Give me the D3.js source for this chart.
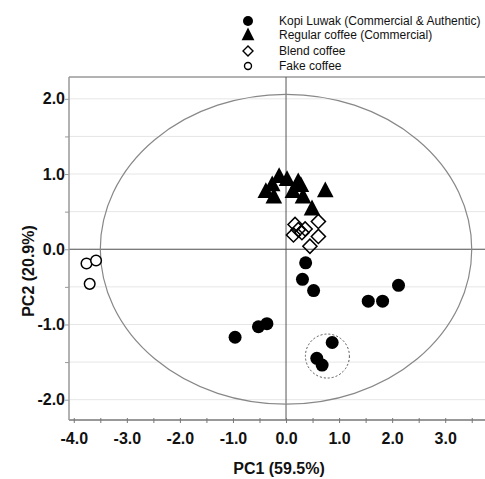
<!DOCTYPE html>
<html>
<head>
<meta charset="utf-8">
<script src="https://cdn.jsdelivr.net/npm/d3@7"></script>
<style>
  body { margin: 0; background: #fff; }
  svg { font-family: Arial, "Liberation Sans", sans-serif; }
</style>
</head>
<body>
<div id="chart"></div>
<script>
// PCA scores
const kopiLuwak = [
  [-0.96, -1.17], [-0.52, -1.03], [-0.36, -0.99],
  [0.37, -0.18], [0.31, -0.40], [0.52, -0.55],
  [1.55, -0.69], [1.82, -0.69], [2.12, -0.48],
  [0.87, -1.24], [0.58, -1.45], [0.68, -1.54]
];
const regularCoffee = [
  [-0.26, 0.84], [-0.13, 0.95], [0.02, 0.91], [0.23, 0.88], [0.28, 0.83],
  [-0.38, 0.75], [-0.23, 0.68], [0.13, 0.75], [0.32, 0.68], [0.74, 0.76], [0.49, 0.52]
];
const blendCoffee = [
  [0.14, 0.19], [0.17, 0.33], [0.23, 0.26], [0.36, 0.27],
  [0.45, 0.04], [0.61, 0.37], [0.61, 0.17], [0.30, 0.22]
];
const fakeCoffee = [[-3.76, -0.19], [-3.58, -0.15], [-3.70, -0.46]];
const legendLabels = ["Kopi Luwak (Commercial & Authentic)", "Regular coffee (Commercial)", "Blend coffee", "Fake coffee"];
const xTicks = [-4, -3, -2, -1, 0, 1, 2, 3];
const yTicks = [-2, -1, 0, 1, 2];
const ellipseRadii = [3.5, 2.06];
const highlight = { cx: 0.78, cy: -1.42 };

const width = 485, height = 479;
const plotLeft = 69, plotRight = 485, plotTop = 77, plotBottom = 420;

const svg = d3.select("#chart").append("svg").attr("width", width).attr("height", height);

const x = d3.scaleLinear().domain([-4.09, 3.75]).range([plotLeft, plotRight]);
const y = d3.scaleLinear().domain([-2.27, 2.29]).range([plotBottom, plotTop]);

// plain hyphen for negatives, like the original
const fmt1 = d3.formatLocale({ decimal: ".", thousands: ",", grouping: [3], currency: ["", ""], minus: "-" }).format(".1f");

// horizontal grid every 0.5
const halfY = d3.range(-2, 2.01, 0.5);
svg.append("g").selectAll("line").data(halfY).join("line")
  .attr("x1", plotLeft).attr("x2", plotRight)
  .attr("y1", d => y(d)).attr("y2", d => y(d))
  .attr("stroke", "#e6e6e6").attr("stroke-width", 1);

// top border
svg.append("line").attr("x1", plotLeft).attr("x2", plotRight).attr("y1", plotTop).attr("y2", plotTop)
  .attr("stroke", "#999").attr("stroke-width", 1.5);

// zero lines
svg.append("line").attr("x1", x(0)).attr("x2", x(0)).attr("y1", plotTop).attr("y2", plotBottom)
  .attr("stroke", "#555").attr("stroke-width", 1);
svg.append("line").attr("x1", plotLeft).attr("x2", plotRight).attr("y1", y(0)).attr("y2", y(0))
  .attr("stroke", "#555").attr("stroke-width", 1);

// Hotelling ellipse
svg.append("ellipse")
  .attr("cx", x(0)).attr("cy", y(0))
  .attr("rx", x(ellipseRadii[0]) - x(0)).attr("ry", y(0) - y(ellipseRadii[1]))
  .attr("fill", "none").attr("stroke", "#888").attr("stroke-width", 1.2);

// axes
const halfX = d3.range(-4, 3.51, 0.5);
const xAxis = d3.axisBottom(x).tickValues(halfX).tickSize(3)
  .tickFormat(d => xTicks.includes(d) ? fmt1(d) : "");
const yAxis = d3.axisLeft(y).tickValues(halfY).tickSize(4)
  .tickFormat(d => yTicks.includes(d) ? fmt1(d) : "");

const gx = svg.append("g").attr("transform", `translate(0,${plotBottom})`).call(xAxis);
gx.select(".domain").attr("d", `M${plotLeft},0H${plotRight}`).attr("stroke", "#777").attr("stroke-width", 1.5);
gx.selectAll(".tick line").attr("stroke", "#777").attr("y1", -2);
gx.selectAll(".tick text").attr("font-size", 16).attr("font-weight", "bold").attr("fill", "#111").attr("dy", "1.15em");

const gy = svg.append("g").attr("transform", `translate(${plotLeft},0)`).call(yAxis);
gy.select(".domain").attr("d", `M0,${plotTop}V${plotBottom}`).attr("stroke", "#999").attr("stroke-width", 1.5);
gy.selectAll(".tick line").attr("stroke", "#999");
gy.selectAll(".tick text").attr("font-size", 16).attr("font-weight", "bold").attr("fill", "#111").attr("x", -4);

// axis titles
svg.append("text").attr("x", 279).attr("y", 474).attr("text-anchor", "middle")
  .attr("font-size", 16).attr("font-weight", "bold").attr("fill", "#111").text("PC1 (59.5%)");
svg.append("text").attr("transform", "translate(34,271) rotate(-90)").attr("text-anchor", "middle")
  .attr("font-size", 16).attr("font-weight", "bold").attr("fill", "#111").text("PC2 (20.9%)");

// highlight circle
svg.append("circle").attr("cx", x(highlight.cx)).attr("cy", y(highlight.cy)).attr("r", 22)
  .attr("fill", "none").attr("stroke", "#555").attr("stroke-dasharray", "2,2");

// markers
const triangle = d3.symbol().type(d3.symbolTriangle).size(120);
const diamond = d3.symbol().type(d3.symbolSquare).size(100);

svg.append("g").selectAll("path").data(regularCoffee).join("path")
  .attr("d", triangle)
  .attr("transform", d => `translate(${x(d[0])},${y(d[1])}) scale(1,1.1)`)
  .attr("fill", "#000");

svg.append("g").selectAll("path").data(blendCoffee).join("path")
  .attr("d", diamond)
  .attr("transform", d => `translate(${x(d[0])},${y(d[1])}) rotate(45)`)
  .attr("fill", "none").attr("stroke", "#000").attr("stroke-width", 1.5);

svg.append("g").selectAll("circle").data(kopiLuwak).join("circle")
  .attr("cx", d => x(d[0])).attr("cy", d => y(d[1])).attr("r", 6.5).attr("fill", "#000");

svg.append("g").selectAll("circle").data(fakeCoffee).join("circle")
  .attr("cx", d => x(d[0])).attr("cy", d => y(d[1])).attr("r", 5.3)
  .attr("fill", "#fff").attr("stroke", "#000").attr("stroke-width", 1.5);

// legend
const legendY = [21, 35, 51, 66];
const lg = svg.append("g");
lg.selectAll("text").data(legendLabels).join("text")
  .attr("x", 279).attr("y", (d, i) => legendY[i]).attr("dy", "0.35em")
  .attr("font-size", 12).attr("fill", "#111").text(d => d);
lg.append("circle").attr("cx", 248).attr("cy", legendY[0]).attr("r", 5).attr("fill", "#000");
lg.append("path").attr("d", d3.symbol().type(d3.symbolTriangle).size(70))
  .attr("transform", `translate(248,${legendY[1] + 1}) scale(1,1.15)`).attr("fill", "#000");
lg.append("path").attr("d", d3.symbol().type(d3.symbolSquare).size(50))
  .attr("transform", `translate(248,${legendY[2]}) rotate(45)`)
  .attr("fill", "none").attr("stroke", "#000").attr("stroke-width", 1.4);
lg.append("circle").attr("cx", 248).attr("cy", legendY[3]).attr("r", 3.5)
  .attr("fill", "none").attr("stroke", "#000").attr("stroke-width", 1.4);
</script>
</body>
</html>
